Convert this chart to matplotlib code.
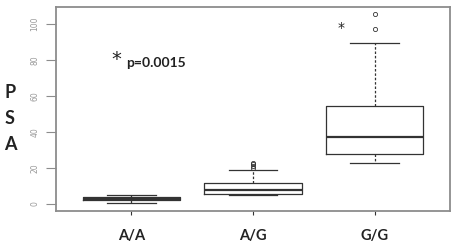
import matplotlib
matplotlib.use("Agg")
import matplotlib.pyplot as plt

# genotype groups and box statistics
genotypes = ["A/A", "A/G", "G/G"]
whisker_lo = [0.4, 5.2, 23.0]
q1 = [2.1, 5.8, 27.6]
medians = [2.9, 7.6, 37.4]
q3 = [3.7, 11.8, 54.4]
whisker_hi = [4.8, 18.9, 89.3]
outliers = [[], [20.2, 21.2, 22.2, 23.0], [97.4, 105.4]]
yticks = [0, 20, 40, 60, 80, 100]

stats = []
for i in range(len(genotypes)):
    stats.append(dict(whislo=whisker_lo[i], q1=q1[i], med=medians[i], q3=q3[i],
                      whishi=whisker_hi[i], fliers=outliers[i], label=genotypes[i]))

ink = "#333333"
frame = "#8c8c8c"

fig = plt.figure(figsize=(4.55, 2.44), dpi=100)
ax = fig.add_axes([56 / 455, 1 - 211 / 244, 394 / 455, 204 / 244])

ax.bxp(stats, positions=[1, 2, 3], widths=0.8, showfliers=True,
       boxprops=dict(color=ink, linewidth=0.9),
       medianprops=dict(color=ink, linewidth=1.6),
       whiskerprops=dict(color=ink, linewidth=0.9, linestyle=(0, (2, 1.5))),
       capprops=dict(color=ink, linewidth=0.9),
       flierprops=dict(marker="o", markersize=3, markerfacecolor="none",
                       markeredgecolor=ink, markeredgewidth=0.6))

ax.set_xlim(0.38, 3.62)
ax.set_ylim(-3.9, 109.4)

for s in ax.spines.values():
    s.set_color(frame)
    s.set_linewidth(1.3)

ax.set_yticks(yticks)
ax.set_yticklabels([str(t) for t in yticks], rotation=90, va="center",
                   fontsize=5.5, color="#999999")
ax.tick_params(axis="y", length=7, width=0.8, color=frame, pad=5)
ax.set_xticks([1, 2, 3])
ax.set_xticklabels(genotypes, fontsize=10.5, fontweight="bold", family="Lato",
                   color="#222222")
ax.tick_params(axis="x", length=3, width=0.8, color=ink, pad=10)

# annotations
ax.text(0.88, 80.5, "*", fontsize=14, ha="center", va="center",
        color="#222222")
ax.text(0.96, 78.5, "p=0.0015", fontsize=10, fontweight="bold", family="Lato",
        ha="left", va="center", color="#222222")
ax.text(2.72, 97.6, "*", fontsize=10, ha="center", va="center", color="#222222")

# vertical axis title, one letter per line
for letter, ypx in zip("PSA", [92, 119, 145]):
    fig.text(10 / 455, 1 - ypx / 244, letter, fontsize=13, fontweight="bold",
             family="Lato", ha="center", va="center", color="#222222")

fig.savefig("out.png", dpi=100)
